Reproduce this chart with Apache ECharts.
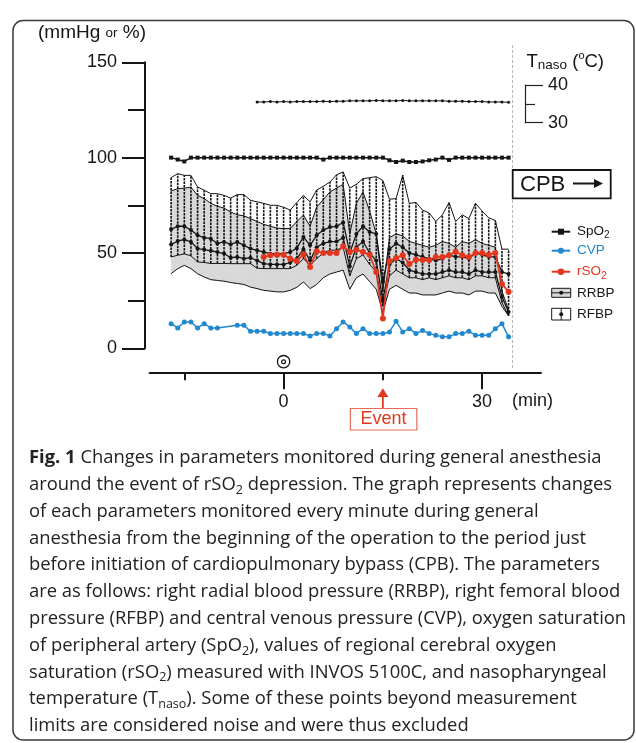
<!DOCTYPE html>
<html><head><meta charset="utf-8">
<script src="https://cdn.jsdelivr.net/npm/echarts@6/dist/echarts.min.js"></script>
<style>html,body{margin:0;padding:0;background:#fff}#c{width:636px;height:743px}</style>
</head><body><div id="c"></div>
<script>
// ---- data (minutes relative to the marked start) ----
const minutes = [-17,-16,-15,-14,-13,-12,-11,-10,-9,-8,-7,-6,-5,-4,-3,-2,-1,0,1,2,3,4,5,6,7,8,9,10,11,12,13,14,15,16,17,18,19,20,21,22,23,24,25,26,27,28,29,30,31,32,33,34];
const spo2 = [100,99,98,100,100,100,100,100,100,100,100,100,100,100,100,100,100,100,100,100,100,100,100,99,100,100,100,100,100,100,100,100,100,98.6,97.7,98.4,97.7,97.7,98,98.6,99,100,98.8,100,100,100,100,100,100,100,100,100];
const cvp = [12.9,10.7,13.8,13.8,10.7,12.9,10.7,10.7,null,null,12.1,12.1,8.9,8.9,8.9,7.7,7.7,7.7,7.7,7.7,7.7,6.5,7.7,7.7,6.5,10.3,13.8,11.2,7.7,10.3,7.7,7.7,7.7,8.6,14.2,8.6,10.3,7.7,9.4,7.7,6.9,6.0,6.0,7.7,7.7,8.9,6.9,6.9,6.9,10.3,12.9,6.0];
const rso2 = [null,null,null,null,null,null,null,null,null,null,null,null,null,null,47.9,48.8,49.1,49.1,47.0,45.8,49.3,42.6,50.9,50.0,50.0,50.0,53.5,50.5,51.7,50.5,49.0,40.0,15.6,45.8,47.4,48.8,44.2,46.5,46.3,46.3,47.9,47.9,48.8,50.7,48.8,47.9,50.0,50.0,49.1,50.0,33.7,29.7];
const tnaso = [null,null,null,null,null,null,null,null,null,null,null,null,null,35.5,35.5,35.6,35.5,35.6,35.5,35.6,35.6,35.6,35.6,35.7,35.6,35.7,35.7,35.8,35.8,35.8,35.8,35.9,35.8,35.8,35.8,35.9,35.8,35.8,35.8,35.8,35.8,35.8,35.7,35.7,35.7,35.6,35.6,35.6,35.5,35.5,35.5,35.4];
const rfbpSys = [89.5,91.6,90.7,90.7,84.6,82.9,81.1,81.1,80.2,78.8,80.6,80.6,77.6,76.8,76,75,75,74,72.5,76.5,80.2,76.8,83,85,87.2,91,92.5,84,86,89,89.5,90,88,78.2,78.5,90.7,76,76.5,72.5,71,66.5,70,76.5,66.5,70,68,76,72,68.5,67,52,52];
const rfbpMean = [62.4,64,64,62,59.3,58,57.5,55,55.8,54.5,55.8,54,52.3,51.4,50.5,49.6,49.6,49.6,50.5,52.5,58.4,54,59.3,62,63.6,64,66,50,60,64,61,60,35,52,55,53,50,49,48,47,46,47,49,48,48,47,50,49,48,48,40,39];
const rfbpDia = [47.9,48.8,49.5,48.5,45.3,45,44.5,44.5,44.5,44.4,44.4,44.4,44.4,42,41.8,41.8,41.8,41.8,41.8,43.5,47,43.5,47,50,51.4,51.5,53,38,47,49,44,40,22,38,41,39,37,37,36,37,36,37,38,37,37,36,38,38,37,37,24,17];
const rrbpSys = [82.5,83.7,84,84.5,80.2,78.5,76,74.5,73.5,71.5,70,69.5,68,66.5,65,64,63,62.8,62.8,66.5,69.8,64,74,78,82,84,86,60,76,82,72,60,30,58,60,59,56,55,54,53,54,56,55,53,56,55,57,55,54,53,30,20];
const rrbpMean = [54.4,56.3,57,55.8,52.3,51.8,51.1,50.5,49.7,47.5,47.9,47,47.5,46,44.4,44,44,44,45,47,52,46,53,55,56,56,58,43,53,56,50,46,25,44,47,45,41,40,39,39,39,40,41,40,40,39,41,40,40,40,27,19];
const rrbpDia = [39.1,41.8,43.5,41.8,39.1,37.4,36,35.6,35.2,34.5,34,33.5,32.1,31.3,30.4,30,29.6,29.6,30.4,32,34.8,31.3,33.5,37,39,40,41,31,37,39,35,31,19,31,33,31,29,29,28,28,28,29,30,29,29,28,30,30,29,29,22,17];
const yTicks = [0, 50, 100, 150];
const xMinorTicks = [-15, 15];
const xLabelTicks = [0, 30];
const eventMinute = 15;
const startMinute = 0;
const cpbMinute = 34.6;

const pairs = arr => minutes.map((t, i) => [t, arr[i]]);
const BLUE = '#2088cf', RED = '#e3361f', GRAY = '#d8d8d8', INK = '#151515';
const FONT = 'Liberation Sans';
const X_MIN = -20.25, X_MAX = 38.9;
const G = {left: 149.6, width: 391.4};

const option = {
  animation: false,
  textStyle: {fontFamily: FONT},
  grid: [
    {left: G.left, width: G.width, top: 62.3, height: 286},
    {left: G.left, width: G.width, top: 85, height: 37.7}
  ],
  xAxis: [
    {gridIndex: 0, type: 'value', min: X_MIN, max: X_MAX, position: 'bottom', offset: 24,
     axisLine: {onZero: false, lineStyle: {color: INK, width: 2}},
     axisTick: {customValues: xMinorTicks, length: 8, lineStyle: {color: INK, width: 2}},
     axisLabel: {customValues: xLabelTicks, margin: 21, fontSize: 18, color: INK, fontFamily: FONT},
     splitLine: {show: false}},
    {gridIndex: 0, type: 'value', min: X_MIN, max: X_MAX, position: 'bottom', offset: 24,
     axisLine: {show: false, onZero: false},
     axisTick: {customValues: xLabelTicks, length: 17, lineStyle: {color: INK, width: 2}},
     axisLabel: {show: false}, splitLine: {show: false}},
    {gridIndex: 1, type: 'value', min: X_MIN, max: X_MAX, show: false, axisLine: {onZero: false}}
  ],
  yAxis: [
    {gridIndex: 0, type: 'value', min: 0, max: 150, interval: 50, position: 'left', offset: 4.6,
     axisLine: {show: true, onZero: false, lineStyle: {color: INK, width: 2}},
     axisTick: {show: true, length: 23, lineStyle: {color: INK, width: 2}},
     minorTick: {show: true, splitNumber: 2, length: 17, lineStyle: {color: INK, width: 2}},
     axisLabel: {margin: 28, fontSize: 18, color: INK, fontFamily: FONT},
     splitLine: {show: false}, minorSplitLine: {show: false}},
    {gridIndex: 1, type: 'value', min: 30, max: 40, interval: 10, position: 'right', offset: -16,
     axisLine: {show: true, onZero: false, lineStyle: {color: '#222', width: 1.2}},
     axisTick: {show: true, length: 18, lineStyle: {color: '#222', width: 1.2}},
     minorTick: {show: true, splitNumber: 2, length: 10, lineStyle: {color: '#222', width: 1.2}},
     axisLabel: {margin: 23, fontSize: 18, color: INK, fontFamily: FONT},
     splitLine: {show: false}, minorSplitLine: {show: false}}
  ],
  series: [
    {name: 'RRBP band', type: 'custom', data: minutes.map((t, i) => [t, rrbpDia[i], rrbpSys[i]]),
     encode: {x: 0, y: [1, 2]}, z: 1, silent: true,
     renderItem: (params, api) => {
       const i = params.dataIndexInside;
       if (i >= params.dataInsideLength - 1) return null;
       const t0 = api.value(0, i), t1 = api.value(0, i + 1);
       const pts = [api.coord([t0, api.value(1, i)]), api.coord([t1, api.value(1, i + 1)]),
                    api.coord([t1, api.value(2, i + 1)]), api.coord([t0, api.value(2, i)])];
       return {type: 'polygon', shape: {points: pts}, style: {fill: GRAY, stroke: GRAY, lineWidth: 0.6}};
     }},
    {name: 'RFBP bars', type: 'custom', data: minutes.map((t, i) => [t, rfbpDia[i], rfbpSys[i]]),
     encode: {x: 0, y: [1, 2]}, z: 2, silent: true,
     renderItem: (params, api) => {
       const a = api.coord([api.value(0), api.value(1)]);
       const b = api.coord([api.value(0), api.value(2)]);
       return {type: 'line', shape: {x1: a[0], y1: a[1], x2: b[0], y2: b[1]},
               style: {stroke: '#111', lineWidth: 1.6, lineDash: [2.5, 1]}};
     }},
    {name: 'RFBP sys', type: 'line', data: pairs(rfbpSys), symbol: 'none', lineStyle: {color: INK, width: 1}, z: 3},
    {name: 'RFBP dia', type: 'line', data: pairs(rfbpDia), symbol: 'none', lineStyle: {color: INK, width: 1}, z: 3},
    {name: 'RRBP sys', type: 'line', data: pairs(rrbpSys), symbol: 'none', lineStyle: {color: INK, width: 1}, z: 3},
    {name: 'RRBP dia', type: 'line', data: pairs(rrbpDia), symbol: 'none', lineStyle: {color: INK, width: 1}, z: 3},
    {name: 'RFBP mean', type: 'line', data: pairs(rfbpMean), symbol: 'circle', symbolSize: 4,
     itemStyle: {color: INK}, lineStyle: {color: INK, width: 1.3}, z: 4},
    {name: 'RRBP mean', type: 'line', data: pairs(rrbpMean), symbol: 'circle', symbolSize: 4,
     itemStyle: {color: INK}, lineStyle: {color: INK, width: 1.3}, z: 4},
    {name: 'SpO2', type: 'line', data: pairs(spo2), symbol: 'rect', symbolSize: 4,
     itemStyle: {color: INK}, lineStyle: {color: INK, width: 1.5}, z: 5},
    {name: 'CVP', type: 'line', data: pairs(cvp), connectNulls: true, symbol: 'circle', symbolSize: 5,
     itemStyle: {color: BLUE}, lineStyle: {color: BLUE, width: 1.5}, z: 5},
    {name: 'rSO2', type: 'line', data: pairs(rso2), symbol: 'circle', symbolSize: 6,
     itemStyle: {color: RED}, lineStyle: {color: RED, width: 1.8}, z: 6},
    {name: 'Tnaso', type: 'line', xAxisIndex: 2, yAxisIndex: 1, data: pairs(tnaso), symbol: 'circle', symbolSize: 3,
     itemStyle: {color: INK}, lineStyle: {color: INK, width: 1}, z: 5}
  ]
};

const chart = echarts.init(document.getElementById('c'), null, {renderer: 'canvas'});
chart.setOption(option);

const px = v => chart.convertToPixel({gridIndex: 0}, [v, 0])[0];
const ex = px(eventMinute), sx = px(startMinute), cx = px(cpbMinute);

const T = (x, y, text, o) => Object.assign({type: 'text', x: x, y: y, silent: true,
  style: Object.assign({text: text, fontFamily: FONT, fontSize: 18, fill: INK, align: 'left', verticalAlign: 'middle'}, o || {})});

const CAP = 'Open Sans', CAPSIZE = 18.4;
const capRich = {
  b: {fontFamily: CAP, fontSize: CAPSIZE, fontWeight: 'bold', fill: '#222', lineHeight: 24, verticalAlign: 'middle'},
  s: {fontFamily: CAP, fontSize: 12.5, fill: '#222', lineHeight: 14, verticalAlign: 'bottom'}
};
const captionLines = [
  '{b|Fig. 1} Changes in parameters monitored during general anesthesia',
  'around the event of rSO{s|2} depression. The graph represents changes',
  'of each parameters monitored every minute during general',
  'anesthesia from the beginning of the operation to the period just',
  'before initiation of cardiopulmonary bypass (CPB). The parameters',
  'are as follows: right radial blood pressure (RRBP), right femoral blood',
  'pressure (RFBP) and central venous pressure (CVP), oxygen saturation',
  'of peripheral artery (SpO{s|2}), values of regional cerebral oxygen',
  'saturation (rSO{s|2}) measured with INVOS 5100C, and nasopharyngeal',
  'temperature (T{s|naso}). Some of these points beyond measurement',
  'limits are considered noise and were thus excluded'
];

const g = [];
g.push({type: 'rect', silent: true, z: -10, shape: {x: 13, y: 20.5, width: 621, height: 719.5, r: 10},
        style: {fill: 'none', stroke: '#3a3a3a', lineWidth: 1.5}});
// axis titles
g.push(T(38, 33, '(mmHg {s|or} %)', {fontSize: 19, rich: {s: {fontFamily: FONT, fontSize: 13.5, fill: INK}}}));
g.push(T(526.5, 61.5, 'T{s|naso} ({o|o}C)', {fontSize: 18.5, rich: {
  s: {fontFamily: FONT, fontSize: 13.5, fill: INK, lineHeight: 13, verticalAlign: 'bottom'},
  o: {fontFamily: FONT, fontSize: 11, fill: INK, lineHeight: 11, verticalAlign: 'top'}},
  lineHeight: 22}));
g.push(T(512, 401.5, '(min)'));
// CPB dashed boundary
g.push({type: 'line', silent: true, shape: {x1: cx, y1: 45, x2: cx, y2: 370},
        style: {stroke: '#b5b5b5', lineWidth: 1, lineDash: [3, 2]}});
// CPB box
g.push({type: 'rect', silent: true, shape: {x: 512.7, y: 170, width: 98, height: 28.3},
        style: {fill: '#fff', stroke: INK, lineWidth: 1.8}});
g.push(T(520, 184.5, 'CPB', {fontSize: 22}));
g.push({type: 'line', silent: true, shape: {x1: 573, y1: 183.5, x2: 598, y2: 183.5}, style: {stroke: INK, lineWidth: 2}});
g.push({type: 'polygon', silent: true, shape: {points: [[603, 183.5], [594, 179], [594, 188]]}, style: {fill: INK}});
// start marker
g.push({type: 'circle', silent: true, shape: {cx: sx, cy: 361.7, r: 6.2}, style: {fill: 'none', stroke: INK, lineWidth: 1.3}});
g.push({type: 'circle', silent: true, shape: {cx: sx, cy: 361.7, r: 1.9}, style: {fill: 'none', stroke: INK, lineWidth: 1.2}});
// event annotation
g.push({type: 'line', silent: true, shape: {x1: ex, y1: 396, x2: ex, y2: 408.5}, style: {stroke: RED, lineWidth: 1.8}});
g.push({type: 'polygon', silent: true, shape: {points: [[ex, 388.3], [ex - 5.5, 397], [ex + 5.5, 397]]}, style: {fill: RED}});
g.push({type: 'rect', silent: true, shape: {x: ex - 32.5, y: 408.5, width: 66.5, height: 21.5},
        style: {fill: '#fff', stroke: '#e8685a', lineWidth: 1.2}});
g.push(T(ex + 0.7, 419.5, 'Event', {fill: RED, align: 'center', fontSize: 18}));
// legend
const LX = 551.7, LW = 18.5, TX = 577;
const legRich = c => ({s: {fontFamily: FONT, fontSize: 10, fill: c, lineHeight: 12, verticalAlign: 'bottom'}});
g.push({type: 'line', silent: true, shape: {x1: LX, y1: 231.7, x2: LX + LW, y2: 231.7}, style: {stroke: INK, lineWidth: 2}});
g.push({type: 'rect', silent: true, shape: {x: LX + LW / 2 - 3, y: 228.7, width: 6, height: 6}, style: {fill: INK}});
g.push(T(TX, 231.7, 'SpO{s|2}', {fontSize: 13.5, rich: legRich(INK), lineHeight: 18}));
g.push({type: 'line', silent: true, shape: {x1: LX, y1: 250.7, x2: LX + LW, y2: 250.7}, style: {stroke: BLUE, lineWidth: 2}});
g.push({type: 'circle', silent: true, shape: {cx: LX + LW / 2, cy: 250.7, r: 3}, style: {fill: BLUE}});
g.push(T(TX, 250.7, 'CVP', {fontSize: 13.5, fill: BLUE}));
g.push({type: 'line', silent: true, shape: {x1: LX, y1: 271.7, x2: LX + LW, y2: 271.7}, style: {stroke: RED, lineWidth: 2}});
g.push({type: 'circle', silent: true, shape: {cx: LX + LW / 2, cy: 271.7, r: 3.3}, style: {fill: RED}});
g.push(T(TX, 271.7, 'rSO{s|2}', {fontSize: 13.5, fill: RED, rich: {s: {fontFamily: FONT, fontSize: 10.5, fill: RED, lineHeight: 12, verticalAlign: 'bottom'}}, lineHeight: 20}));
g.push({type: 'rect', silent: true, shape: {x: LX, y: 288.3, width: 19, height: 9}, style: {fill: GRAY, stroke: INK, lineWidth: 1}});
g.push({type: 'line', silent: true, shape: {x1: LX, y1: 292.8, x2: LX + 19, y2: 292.8}, style: {stroke: INK, lineWidth: 1}});
g.push({type: 'circle', silent: true, shape: {cx: LX + 9.5, cy: 292.8, r: 2}, style: {fill: INK}});
g.push(T(TX, 292.8, 'RRBP', {fontSize: 13.5}));
g.push({type: 'rect', silent: true, shape: {x: LX, y: 308.3, width: 19, height: 11.7}, style: {fill: '#fff', stroke: INK, lineWidth: 1}});
g.push({type: 'line', silent: true, shape: {x1: LX + 9.5, y1: 308.3, x2: LX + 9.5, y2: 320}, style: {stroke: INK, lineWidth: 1}});
g.push({type: 'circle', silent: true, shape: {cx: LX + 9.5, cy: 314.2, r: 2}, style: {fill: INK}});
g.push(T(TX, 314.2, 'RFBP', {fontSize: 13.5}));
// caption
captionLines.forEach((line, i) => {
  g.push(T(29, 458 + i * 26.8, line, {fontFamily: CAP, fontSize: CAPSIZE, fill: '#222', lineHeight: 24, rich: capRich}));
});

chart.setOption({graphic: g});
</script>
</body></html>
